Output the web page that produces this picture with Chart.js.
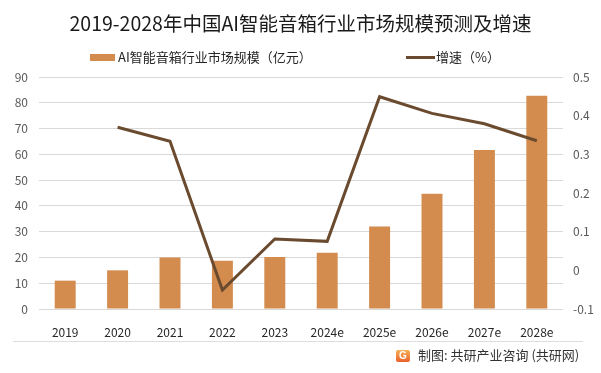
<!DOCTYPE html>
<html>
<head>
<meta charset="utf-8">
<script src="https://cdn.jsdelivr.net/npm/chart.js@4/dist/chart.umd.min.js"></script>
<style>
    body { margin: 0; background: #fff; font-family: "Noto Sans CJK SC", sans-serif; }
    #wrap { position: relative; width: 601px; height: 373px; overflow: hidden; background: #fff; }
    #chart { position: absolute; left: 0; top: 0; }
    .title { position: absolute; top: 9px; left: 0; width: 601px; text-align: center; font-size: 19.5px; color: #1a1a1a; line-height: 28px; }
    .lg-box { position: absolute; left: 90px; top: 54px; width: 25px; height: 7px; background: #d38b4e; }
    .lg-line { position: absolute; left: 406px; top: 56px; width: 29px; height: 3px; background: #6b4b2f; }
    .lg-text { position: absolute; top: 48px; font-size: 13px; color: #262626; line-height: 18px; white-space: nowrap; }
    .sep { position: absolute; left: 13px; top: 341px; width: 570px; height: 1px; background: #dedede; }
    .logo { position: absolute; left: 396px; top: 350px; width: 14px; height: 12px; border-radius: 2px;
            background: linear-gradient(#f7b055, #e9622d); color: #fff; font: bold 10px/12px "Liberation Sans", sans-serif; text-align: center; }
    .source { position: absolute; left: 418px; top: 346px; font-size: 13px; color: #333; line-height: 18px; white-space: nowrap; }
</style>
</head>
<body>
<div id="wrap">
    <canvas id="chart" width="601" height="373"></canvas>
    <div class="title">2019-2028年中国AI智能音箱行业市场规模预测及增速</div>
    <div class="lg-box"></div>
    <div class="lg-text" style="left:118px">AI智能音箱行业市场规模（亿元）</div>
    <div class="lg-line"></div>
    <div class="lg-text" style="left:436px">增速（%）</div>
    <div class="sep"></div>
    <div class="logo">G</div>
    <div class="source">制图: 共研产业咨询 (共研网)</div>
</div>
<script>
// 数据
const categories = ["2019", "2020", "2021", "2022", "2023", "2024e", "2025e", "2026e", "2027e", "2028e"];
const marketSize = [11, 15, 20, 18.7, 20.2, 21.8, 32, 44.7, 61.7, 82.7];
const growthRate = [null, 0.37, 0.334, -0.051, 0.081, 0.075, 0.449, 0.406, 0.379, 0.335];
const leftTicks = [0, 90, 10];      // min, max, step
const rightTicks = [-0.1, 0.5, 0.1];

const barColor = "#d38b4e";
const lineColor = "#6b4b2f";
const tickFont = { family: "Noto Sans CJK SC", size: 12 };

new Chart(document.getElementById("chart"), {
    data: {
        labels: categories,
        datasets: [
            {
                type: "line", label: "增速（%）", data: growthRate, yAxisID: "y1", order: 0,
                borderColor: lineColor, borderWidth: 3, pointRadius: 0, tension: 0, spanGaps: false
            },
            {
                type: "bar", label: "AI智能音箱行业市场规模（亿元）", data: marketSize, yAxisID: "y", order: 1,
                backgroundColor: barColor, barPercentage: 0.5, categoryPercentage: 0.8
            }
        ]
    },
    options: {
        responsive: false,
        animation: false,
        layout: { padding: { top: 77, bottom: 35, left: 0, right: 0 } },
        plugins: { legend: { display: false }, tooltip: { enabled: false } },
        scales: {
            x: {
                grid: { display: false },
                border: { display: false },
                ticks: { color: "#262626", font: tickFont, padding: 8, maxRotation: 0 },
                afterFit: s => { s.height = 29; }
            },
            y: {
                position: "left",
                min: leftTicks[0], max: leftTicks[1],
                ticks: { stepSize: leftTicks[2], color: "#595959", font: tickFont, padding: 11 },
                grid: { color: "#d9d9d9", drawTicks: false },
                border: { display: false },
                afterFit: s => { s.width = 39; }
            },
            y1: {
                position: "right",
                min: rightTicks[0], max: rightTicks[1],
                ticks: {
                    stepSize: rightTicks[2], color: "#595959", font: tickFont, padding: 10,
                    callback: v => String(Number(v.toFixed(1)))
                },
                grid: { display: false, drawTicks: false },
                border: { display: false },
                afterFit: s => { s.width = 38; }
            }
        }
    }
});
</script>
</body>
</html>
